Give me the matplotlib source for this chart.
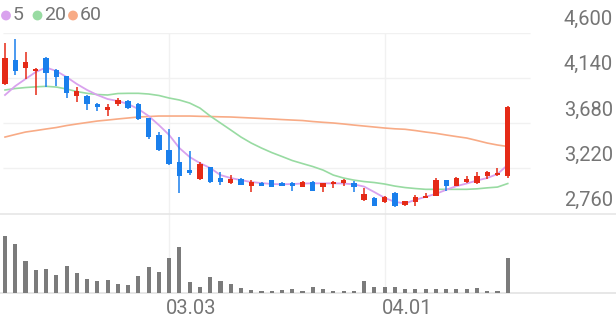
import matplotlib
matplotlib.use('Agg')
import matplotlib.pyplot as plt
import numpy as np
from matplotlib.transforms import blended_transform_factory, offset_copy

# ---------------- data ----------------
opens = [4078, 4322, 4238, 4213, 4345, 4223, 4156, 3956, 3959, 3874,
         3813, 3871, 3908, 3871, 3729, 3559, 3406, 3287, 3202, 3108,
         3230, 3118, 3067, 3108, 3042, 3067, 3100, 3067, 3067, 3032,
         3077, 3026, 3057, 3073, 3067, 2897, 2920, 2873, 2965, 2846,
         2880, 2920, 2941, 3100, 3040, 3083, 3067, 3141, 3151, 3141]
closes = [4345, 4213, 4305, 4230, 4193, 4146, 3983, 4007, 3874, 3847,
          3840, 3915, 3837, 3718, 3541, 3406, 3260, 3141, 3175, 3260,
          3077, 3077, 3108, 3050, 3083, 3040, 3032, 3040, 3042, 3083,
          2992, 3067, 3083, 3100, 3032, 2955, 2839, 2930, 2836, 2887,
          2930, 2941, 3100, 3040, 3118, 3108, 3144, 3185, 3175, 3847]
highs = [4492, 4533, 4400, 4238, 4350, 4230, 4160, 4050, 3965, 3880,
         3874, 3938, 3915, 3881, 3735, 3592, 3617, 3535, 3399, 3281,
         3235, 3185, 3151, 3118, 3100, 3083, 3105, 3083, 3083, 3088,
         3090, 3072, 3088, 3111, 3090, 3022, 2925, 2935, 2981, 2892,
         2948, 2965, 3120, 3105, 3135, 3141, 3179, 3190, 3220, 3850]
lows = [4070, 4169, 4126, 3966, 4044, 4057, 3932, 3898, 3813, 3806,
        3752, 3854, 3820, 3710, 3515, 3396, 3253, 2965, 3151, 3100,
        3067, 3050, 3060, 3045, 2981, 3035, 3028, 3035, 2992, 3028,
        2985, 2981, 3022, 3040, 2981, 2890, 2835, 2868, 2830, 2840,
        2836, 2915, 2935, 2992, 3035, 3067, 3060, 3111, 3145, 3118]
volumes = [576, 493, 326, 233, 240, 183, 276, 200, 140, 123,
           133, 93, 83, 173, 260, 210, 356, 460, 113, 66,
           163, 126, 90, 56, 33, 20, 26, 33, 40, 26,
           60, 40, 20, 20, 23, 126, 60, 60, 60, 40,
           43, 40, 46, 43, 43, 43, 50, 26, 26, 356]
ma5 = [3966, 4057, 4129, 4200, 4246, 4210, 4149, 4078, 4017, 3966,
       3925, 3905, 3874, 3823, 3752, 3660, 3559, 3426, 3335, 3273,
       3223, 3151, 3121, 3100, 3080, 3070, 3060, 3057, 3060, 3065,
       3067, 3067, 3067, 3065, 3057, 3034, 2978, 2919, 2878, 2863,
       2899, 2930, 2960, 3001, 3039, 3065, 3096, 3121, 3162, 3254]
ma20 = [4017, 4032, 4042, 4049, 4054, 4047, 4027, 4001, 3983, 3971,
        3966, 3981, 3983, 3983, 3976, 3961, 3935, 3915, 3884, 3833,
        3752, 3681, 3610, 3538, 3477, 3426, 3380, 3340, 3299, 3268,
        3238, 3202, 3151, 3121, 3100, 3085, 3075, 3060, 3039, 3024,
        3014, 3006, 3006, 3006, 3006, 3006, 3011, 3021, 3029, 3065]
ma60 = [3538, 3564, 3589, 3604, 3620, 3635, 3655, 3671, 3686, 3701,
        3711, 3722, 3732, 3742, 3747, 3752, 3752, 3752, 3752, 3749,
        3747, 3744, 3742, 3737, 3732, 3727, 3722, 3716, 3711, 3706,
        3696, 3688, 3681, 3671, 3660, 3650, 3640, 3630, 3622, 3617,
        3604, 3589, 3576, 3559, 3543, 3528, 3503, 3477, 3457, 3442]
price_ticks = [2760, 3220, 3680, 4140, 4600]
date_tick_index = [16, 37]
date_tick_labels = ['03.03', '04.01']
legend_labels = ['5', '20', '60']

# ---------------- style ----------------
RED = '#e52a16'
BLUE = '#1a7fec'
VOLC = '#7b7b7b'
C5, C20, C60 = '#d9a2ee', '#98dba2', '#f8ab86'
TXT = '#757575'
GRID = '#f1f1f1'
FONT = 'Roboto'

W, H = 616, 321
fig = plt.figure(figsize=(W / 100, H / 100), dpi=100)
fig.patch.set_facecolor('white')

step = 10.26
x0 = 5.0
xlim = (-x0 / step, (W - x0) / step)

ax = fig.add_axes([0, 1 - 213.5 / H, 1, 180.8 / H])
axv = fig.add_axes([0, 1 - 293.3 / H, 1, 68.3 / H])
axo = fig.add_axes([0, 0, 1, 1], zorder=-1)
for a in (ax, axv):
    a.set_xlim(*xlim)
    a.set_axis_off()
    a.patch.set_alpha(0)
axo.set_xlim(0, W)
axo.set_ylim(H, 0)
axo.set_axis_off()

ax.set_ylim(price_ticks[0], price_ticks[-1])
axv.set_ylim(0, 683)

n = len(opens)
x = np.arange(n)
o = np.array(opens, float)
c = np.array(closes, float)
hi = np.array(highs, float)
lo = np.array(lows, float)
up = c >= o
cols = np.where(up, RED, BLUE)

# gridlines
gx_end = (530 - x0) / step
gx_start = (3 - x0) / step
ax.hlines(price_ticks[1:], gx_start, gx_end, color=GRID, lw=1.0, zorder=0)
ax.hlines(price_ticks[0], xlim[0], xlim[1], color='#e6e6e6', lw=1.2, zorder=0, clip_on=False)
axv.hlines(0, xlim[0], xlim[1], color='#e3e3e3', lw=1.2, zorder=0, clip_on=False)
for i in date_tick_index:
    xp = x0 + step * i
    axo.vlines(xp, 32.7, 293.3, color=GRID, lw=1.0)

# moving averages
ax.plot(x, ma60, color=C60, lw=1.2, zorder=2)
ax.plot(x, ma20, color=C20, lw=1.2, zorder=2)
ax.plot(x, ma5, color=C5, lw=1.3, zorder=2)

# candles
ax.vlines(x, lo, hi, colors=cols, lw=1.1, zorder=3, clip_on=False)
bottoms = np.minimum(o, c)
heights = np.maximum(np.abs(c - o), 14)
ax.bar(x, heights, bottom=bottoms, width=0.52, color=cols, zorder=4, clip_on=False)

# volume
axv.bar(x, volumes, width=0.4, color=VOLC, zorder=2)

# price labels
tr = offset_copy(blended_transform_factory(ax.transAxes, ax.transData), fig=fig, x=0, y=13, units='dots')
for v in price_ticks:
    ax.text(613 / W, v, f'{v:,}', transform=tr, ha='right', va='center',
            fontsize=14.5, color=TXT, family=FONT, clip_on=False)

# date labels
trd = blended_transform_factory(axv.transData, fig.transFigure)
for i, lab in zip(date_tick_index, date_tick_labels):
    axv.text(i - 0.3, 1 - 308 / H, lab, transform=trd, ha='left', va='center',
             fontsize=14.5, color=TXT, family=FONT)

# legend
lx = [6, 37.5, 73]
for xp, col, lab in zip(lx, [C5, C20, C60], legend_labels):
    axo.scatter([xp], [15.5], s=50, color=col, edgecolors='none')
    axo.text(xp + 7, 15.5, lab, ha='left', va='center', fontsize=14,
             color=TXT, family=FONT)

fig.savefig('out.png', dpi=100, facecolor='white')
